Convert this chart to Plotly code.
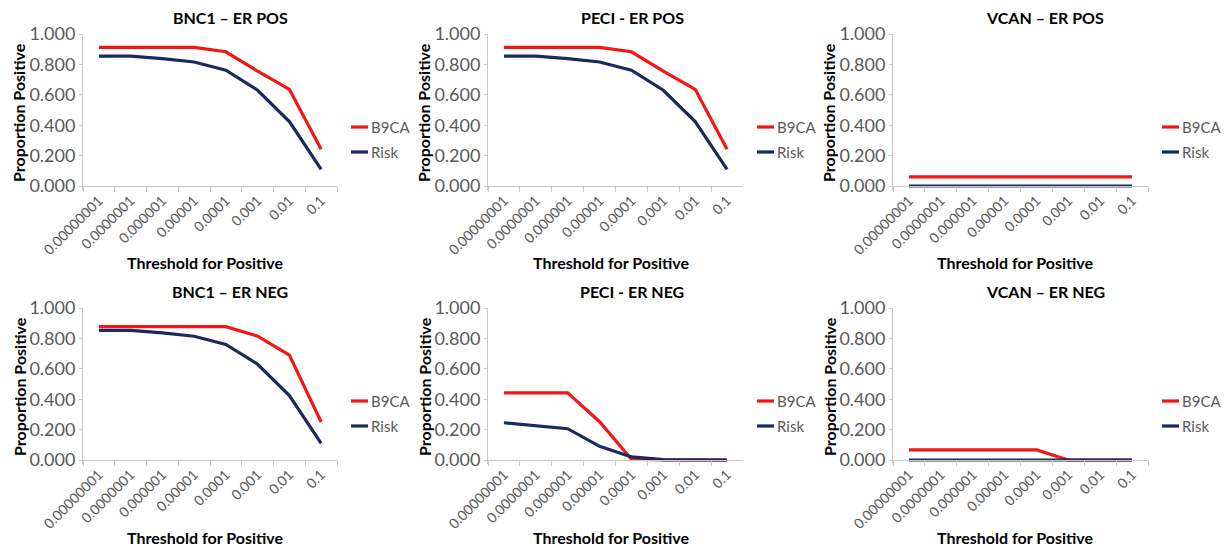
import plotly.graph_objects as go

# ---------------- data ----------------
thresholds = ["0.00000001", "0.0000001", "0.000001", "0.00001",
              "0.0001", "0.001", "0.01", "0.1"]
series_names = ["B9CA", "Risk"]
panel_titles = ["BNC1 \u2013 ER POS", "PECI - ER POS", "VCAN \u2013 ER POS",
                "BNC1 \u2013 ER NEG", "PECI - ER NEG", "VCAN \u2013 ER NEG"]

bnc1_pos_b9ca = [0.912, 0.912, 0.912, 0.912, 0.883, 0.755, 0.636, 0.241]
bnc1_pos_risk = [0.855, 0.855, 0.838, 0.816, 0.762, 0.630, 0.424, 0.110]
peci_pos_b9ca = [0.912, 0.912, 0.912, 0.912, 0.883, 0.755, 0.636, 0.241]
peci_pos_risk = [0.855, 0.855, 0.838, 0.816, 0.762, 0.630, 0.424, 0.110]
vcan_pos_b9ca = [0.060, 0.060, 0.060, 0.060, 0.060, 0.060, 0.060, 0.060]
vcan_pos_risk = [0.000, 0.000, 0.000, 0.000, 0.000, 0.000, 0.000, 0.000]
bnc1_neg_b9ca = [0.877, 0.877, 0.877, 0.877, 0.877, 0.815, 0.690, 0.250]
bnc1_neg_risk = [0.853, 0.853, 0.836, 0.814, 0.760, 0.630, 0.424, 0.110]
peci_neg_b9ca = [0.442, 0.442, 0.442, 0.252, 0.005, 0.000, 0.000, 0.000]
peci_neg_risk = [0.245, 0.226, 0.206, 0.090, 0.020, 0.003, 0.000, 0.000]
vcan_neg_b9ca = [0.066, 0.066, 0.066, 0.066, 0.066, 0.000, 0.000, 0.000]
vcan_neg_risk = [0.000, 0.000, 0.000, 0.000, 0.000, 0.000, 0.000, 0.000]

panel_data = [
    (bnc1_pos_b9ca, bnc1_pos_risk),
    (peci_pos_b9ca, peci_pos_risk),
    (vcan_pos_b9ca, vcan_pos_risk),
    (bnc1_neg_b9ca, bnc1_neg_risk),
    (peci_neg_b9ca, peci_neg_risk),
    (vcan_neg_b9ca, vcan_neg_risk),
]

# ---------------- style / layout ----------------
W, H = 1225, 549
FONT = "Lato"
colors = ["#F41515", "#1B2A5E"]
axis_col = "#C8C8C8"
tick_col = "#595959"

col_x0 = [83, 488, 893]
col_x1 = [337, 743, 1148]
row_top = [34, 308]
row_bot = [186, 460]
title_cx = [230, 632, 1045]
YMIN = -0.025


def px(x):
    return x / W


def py(y):
    return 1 - y / H


fig = go.Figure()
annotations = []
shapes = []

for i, (b9, rk) in enumerate(panel_data):
    r, c = divmod(i, 3)
    n = i + 1
    xa = "x" if n == 1 else f"x{n}"
    ya = "y" if n == 1 else f"y{n}"
    x0, x1 = col_x0[c], col_x1[c]
    yt, yb = row_top[r], row_bot[r]
    span = yb - yt
    dom_bot = py(yb - YMIN * span)

    for s, vals in enumerate((b9, rk)):
        fig.add_trace(go.Scatter(
            x=thresholds, y=vals, mode="lines", name=series_names[s],
            line=dict(color=colors[s], width=3.2), showlegend=False,
            xaxis=xa, yaxis=ya))

    xkey = "xaxis" if n == 1 else f"xaxis{n}"
    ykey = "yaxis" if n == 1 else f"yaxis{n}"
    fig.update_layout({
        xkey: dict(domain=[px(x0), px(x1)], anchor="free", position=py(yb),
                   type="category", categoryorder="array",
                   categoryarray=thresholds, range=[-0.5, 7.5],
                   tickson="boundaries", ticks="outside", ticklen=5,
                   tickcolor=axis_col, showline=True, linecolor=axis_col,
                   linewidth=1, showgrid=False, zeroline=False,
                   tickangle=-45, automargin=False,
                   tickfont=dict(family=FONT, size=14, color=tick_col)),
        ykey: dict(domain=[dom_bot, py(yt)], anchor=xa,
                   range=[YMIN, 1.0], tickvals=[0, 0.2, 0.4, 0.6, 0.8, 1.0],
                   tickformat=".3f", ticks="outside", ticklen=3,
                   tickcolor=axis_col, showline=True, linecolor=axis_col,
                   linewidth=1, showgrid=False, zeroline=False,
                   automargin=False,
                   tickfont=dict(family=FONT, size=18, color=tick_col)),
    })

    # subplot title
    annotations.append(dict(
        text=f"<b>{panel_titles[i]}</b>", x=px(title_cx[c]), y=py(yt - 17),
        xref="paper", yref="paper", xanchor="center", yanchor="middle",
        showarrow=False, font=dict(family=FONT, size=16, color="#000000")))
    # x axis title
    annotations.append(dict(
        text="<b>Threshold for Positive</b>", x=px((x0 + x1) / 2 - 5),
        y=py(yb + 77), xref="paper", yref="paper", xanchor="center",
        yanchor="middle", showarrow=False,
        font=dict(family=FONT, size=16, color="#000000")))
    # y axis title
    annotations.append(dict(
        text="<b>Proportion Positive</b>", x=px(x0 - 64),
        y=py((yt + yb) / 2 + 3), xref="paper", yref="paper",
        xanchor="center", yanchor="middle", textangle=-90, showarrow=False,
        font=dict(family=FONT, size=16, color="#000000")))
    # legend
    leg_y = [yt + 93, yt + 118]
    for s in range(2):
        shapes.append(dict(type="line", xref="paper", yref="paper",
                           x0=px(x1 + 14), x1=px(x1 + 31),
                           y0=py(leg_y[s]), y1=py(leg_y[s]),
                           line=dict(color=colors[s], width=3.2)))
        annotations.append(dict(
            text=series_names[s], x=px(x1 + 32), y=py(leg_y[s]),
            xref="paper", yref="paper", xanchor="left", yanchor="middle",
            showarrow=False,
            font=dict(family=FONT, size=15, color=tick_col)))

fig.update_layout(
    width=W, height=H, margin=dict(l=0, r=0, t=0, b=0, autoexpand=False),
    paper_bgcolor="white", plot_bgcolor="white",
    annotations=annotations, shapes=shapes, showlegend=False,
    font=dict(family=FONT),
)

fig.write_html("out.html")
